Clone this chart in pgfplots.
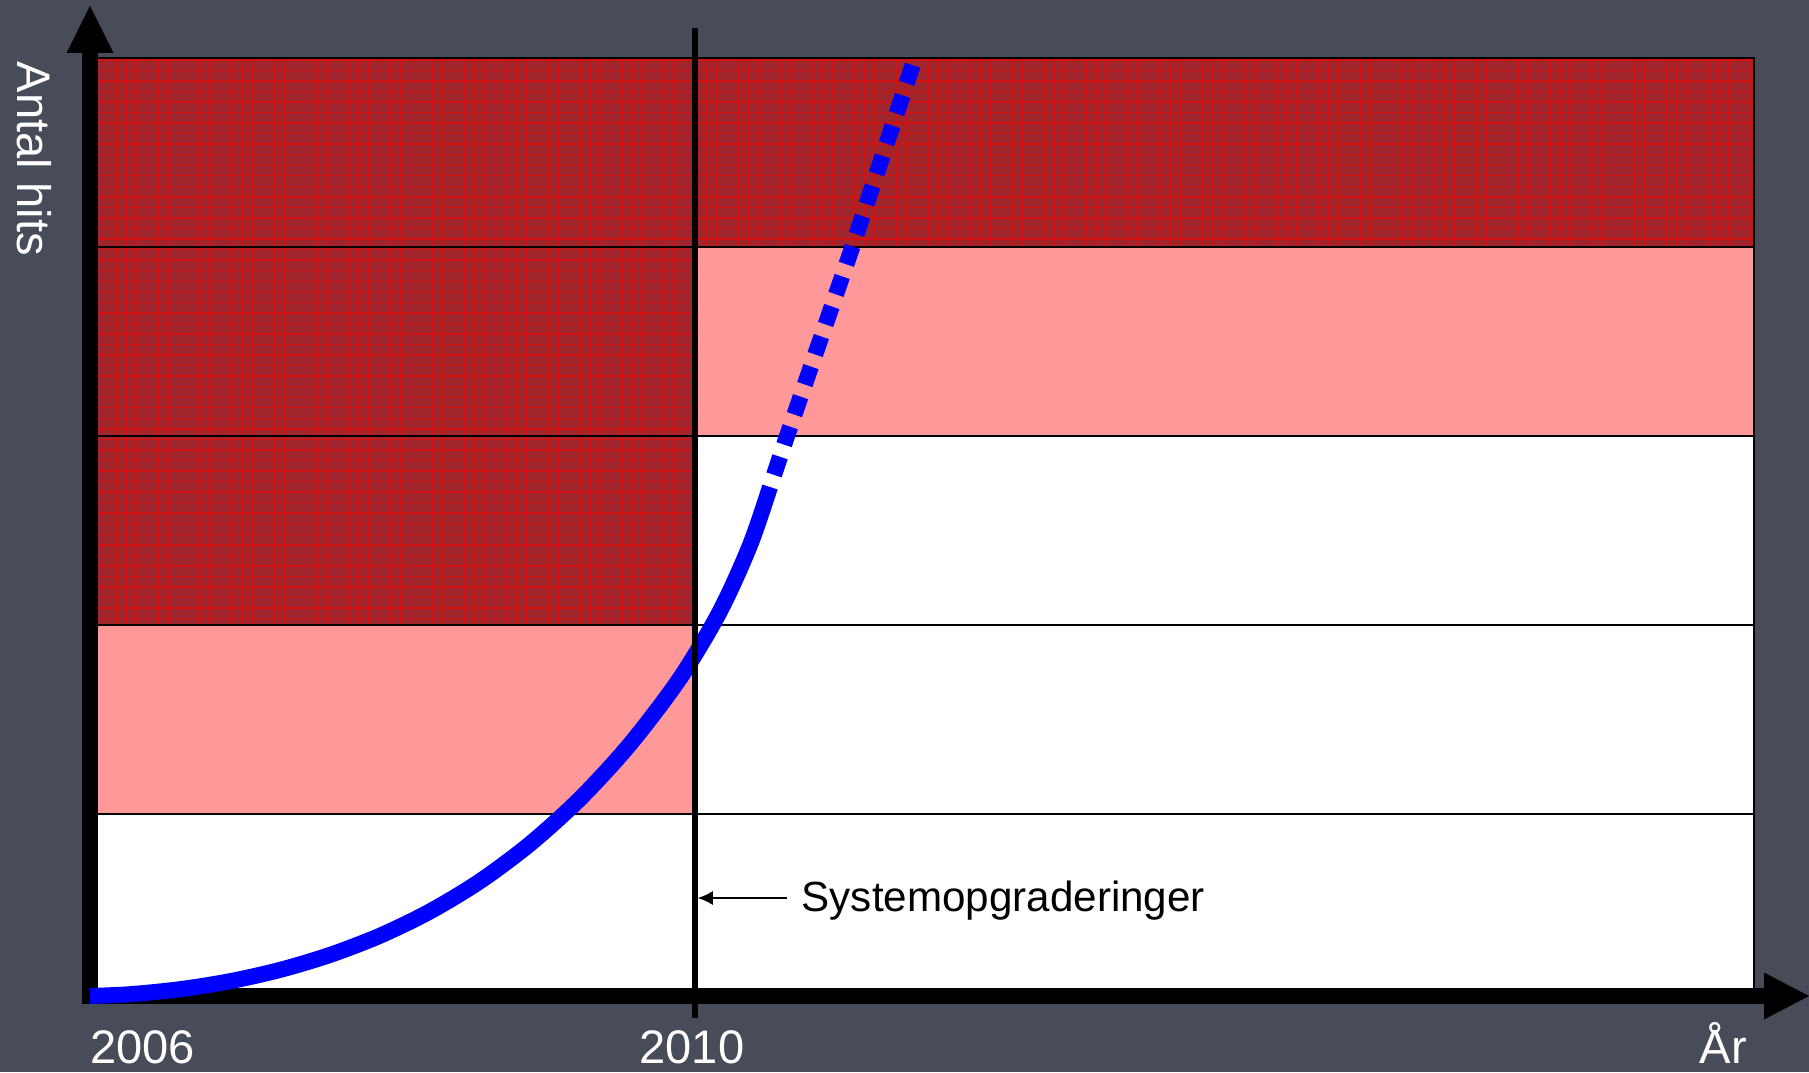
\documentclass[border=0pt]{standalone}
\usepackage{fontspec}
\setmainfont{Liberation Sans}
\usepackage{pgfplots}
\pgfplotsset{compat=1.18}
\usetikzlibrary{patterns,arrows.meta}
\definecolor{bg}{RGB}{72,75,88}
\definecolor{dred}{RGB}{160,38,46}
\definecolor{gred}{RGB}{212,16,16}
\definecolor{pinkc}{RGB}{255,153,153}
\tikzset{
  cell/.style={draw=black, line width=0.02cm, mark=none},
  hot/.style={cell, fill=dred, postaction={pattern=grid, pattern color=gred}},
  lab/.style={inner sep=0pt, outer sep=0pt, text=white, font=\fontsize{13.4}{16}\selectfont},
}
\begin{document}
\begin{tikzpicture}
\begin{axis}[
  scale only axis, width=18.09cm, height=10.72cm,
  xmin=2005.40496, xmax=2017.36529, ymin=-76, ymax=996,
  hide axis, clip=false,
]
\coordinate (bbSW) at (axis cs:2005.40496,-76);
\coordinate (bbNE) at (axis cs:2017.36529,996);
\fill[bg] (axis cs:2005.40496,-76) rectangle (axis cs:2017.36529,996);

% cells, 2006-2010
\addplot[cell, fill=white] coordinates {(2006,-7) (2010,-7) (2010,182) (2006,182)} -- cycle;
\addplot[cell, fill=pinkc] coordinates {(2006,182) (2010,182) (2010,371) (2006,371)} -- cycle;
\addplot[hot] coordinates {(2006,371) (2010,371) (2010,560) (2006,560)} -- cycle;
\addplot[hot] coordinates {(2006,560) (2010,560) (2010,749) (2006,749)} -- cycle;
\addplot[hot] coordinates {(2006,749) (2010,749) (2010,938) (2006,938)} -- cycle;
% cells, 2010-2017
\addplot[cell, fill=white] coordinates {(2010,-7) (2017,-7) (2017,182) (2010,182)} -- cycle;
\addplot[cell, fill=white] coordinates {(2010,182) (2017,182) (2017,371) (2010,371)} -- cycle;
\addplot[cell, fill=white] coordinates {(2010,371) (2017,371) (2017,560) (2010,560)} -- cycle;
\addplot[cell, fill=pinkc] coordinates {(2010,560) (2017,560) (2017,749) (2010,749)} -- cycle;
\addplot[hot] coordinates {(2010,749) (2017,749) (2017,938) (2010,938)} -- cycle;

% axes with arrows
\draw[line width=0.16cm] (axis cs:2006,-8) -- (axis cs:2006,943);
\fill (axis cs:2005.84463,943) -- (axis cs:2006.15537,943) -- (axis cs:2006,990) -- cycle;
\draw[line width=0.16cm] (axis cs:2005.9471,0) -- (axis cs:2017.0678,0);
\fill (axis cs:2017.0678,23.5) -- (axis cs:2017.0678,-23.5) -- (axis cs:2017.3653,0) -- cycle;

% growth curve
\addplot[blue, line width=0.16cm, smooth, mark=none] coordinates {
(2006.0000,0) (2006.2645,1.8) (2006.5950,6.8) (2006.9256,14.8) (2007.2562,26.1)
(2007.5868,41.1) (2007.9174,60.3) (2008.2479,84.6) (2008.5785,114.8)
(2008.9091,152.1) (2009.2397,197.3) (2009.5702,251.8) (2009.9008,317.8)
(2010.1653,384.8) (2010.3636,450.8) (2010.4959,509)};
\addplot[blue, line width=0.16cm, mark=none, dash pattern=on 0.19cm off 0.128cm, dash phase=0.19cm] coordinates {
(2010.4959,509) (2010.6083,560) (2011.0380,748) (2011.4545,938)};

% system upgrade line
\draw[line width=0.058cm] (axis cs:2010,-22) -- (axis cs:2010,968);
\draw[line width=0.015cm, -{Latex[length=0.15cm,width=0.14cm]}] (axis cs:2010.6083,98) -- (axis cs:2010.0185,98);
\node[anchor=base west, inner sep=0pt, font=\fontsize{12}{14}\selectfont] at (axis cs:2010.7008,85) {Systemopgraderinger};

% labels
\node[lab, anchor=base west] at (axis cs:2006,-67) {2006};
\node[lab, anchor=base] at (axis cs:2009.98,-67) {2010};
\node[lab, anchor=base east] at (axis cs:2016.955,-67) {År};
\node[lab, anchor=base west, rotate=-90] at (axis cs:2005.5174,934) {Antal hits};
\end{axis}
\pgfresetboundingbox
\path[use as bounding box] (bbSW) rectangle (bbNE);
\end{tikzpicture}
\end{document}
